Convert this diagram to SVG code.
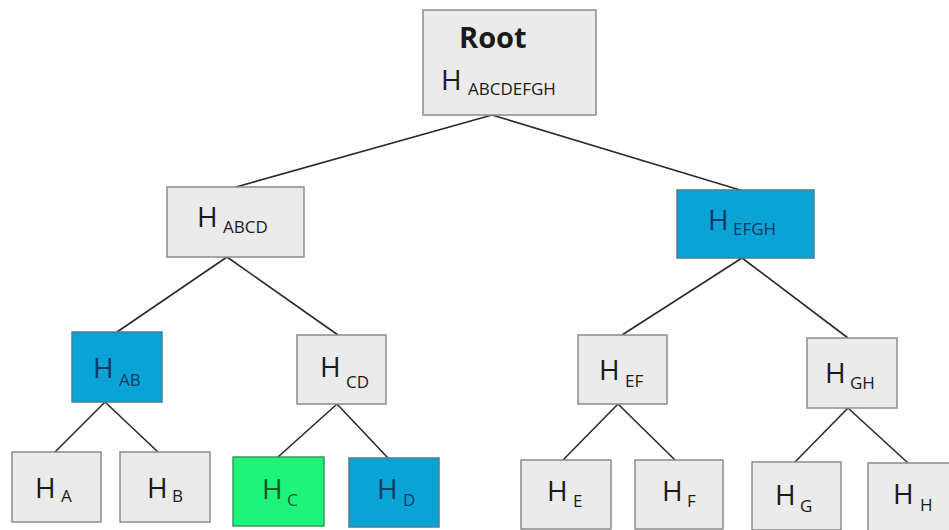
<svg xmlns="http://www.w3.org/2000/svg" width="949" height="530" viewBox="0 0 949 530">
<style>
.g{fill:#ebebeb;stroke:#8c8c8c;stroke-width:1.5}
.b{fill:#0aa3d5;stroke:#4a7f93;stroke-width:1.5}
.gr{fill:#1ff47a;stroke:#3a9a5a;stroke-width:1.5}
text{font-family:"Open Sans","Liberation Sans",sans-serif;font-size:28px;fill:#1a1a1a}
.s{font-size:17px}
.tb{fill:#0c3966}
.tg{fill:#0b5a2c}
.c line{stroke:#2a2a2a;stroke-width:1.6}
</style>
<rect width="949" height="530" fill="#ffffff"/>
<g class="c" id="connectors">
<line x1="492" y1="115" x2="236" y2="187"/>
<line x1="492" y1="115" x2="740" y2="190"/>
<line x1="227" y1="257" x2="117" y2="332"/>
<line x1="227" y1="257" x2="338" y2="335"/>
<line x1="742" y1="258" x2="622" y2="335"/>
<line x1="742" y1="258" x2="848" y2="338"/>
<line x1="105" y1="402" x2="55" y2="452"/>
<line x1="105" y1="402" x2="158" y2="452"/>
<line x1="337" y1="404" x2="278" y2="457"/>
<line x1="337" y1="404" x2="388" y2="458"/>
<line x1="618" y1="404" x2="563" y2="460"/>
<line x1="618" y1="404" x2="675" y2="460"/>
<line x1="848" y1="408" x2="795" y2="462"/>
<line x1="848" y1="408" x2="908" y2="463"/>
</g>
<g id="root">
<rect class="g" x="423" y="10" width="173" height="105"/>
<text x="459" y="48" style="font-weight:700;font-size:29px">Root</text>
<text x="441" y="90">H</text><text class="s" x="468" y="95">ABCDEFGH</text>
</g>
<g id="h-abcd">
<rect class="g" x="167" y="187" width="137" height="70"/>
<text x="197" y="227">H</text><text class="s" x="223" y="233">ABCD</text>
</g>
<g id="h-efgh">
<rect class="b" x="677" y="190" width="137" height="68"/>
<text class="tb" x="708" y="230">H</text><text class="s tb" x="733" y="235">EFGH</text>
</g>
<g id="h-ab">
<rect class="b" x="72" y="332" width="90" height="70"/>
<text class="tb" x="93" y="378">H</text><text class="s tb" x="119" y="386">AB</text>
</g>
<g id="h-cd">
<rect class="g" x="297" y="335" width="89" height="69"/>
<text x="320" y="377">H</text><text class="s" x="346" y="388">CD</text>
</g>
<g id="h-ef">
<rect class="g" x="578" y="335" width="89" height="69"/>
<text x="599" y="380">H</text><text class="s" x="625" y="387">EF</text>
</g>
<g id="h-gh">
<rect class="g" x="807" y="338" width="90" height="70"/>
<text x="825" y="383">H</text><text class="s" x="850" y="389">GH</text>
</g>
<g id="h-a">
<rect class="g" x="12" y="452" width="89" height="70"/>
<text x="35" y="498">H</text><text class="s" x="61" y="502">A</text>
</g>
<g id="h-b">
<rect class="g" x="120" y="452" width="90" height="70"/>
<text x="147" y="498">H</text><text class="s" x="172" y="502">B</text>
</g>
<g id="h-c">
<rect class="gr" x="233" y="457" width="91" height="69"/>
<text class="tg" x="262" y="499">H</text><text class="s tg" x="287" y="506">C</text>
</g>
<g id="h-d">
<rect class="b" x="349" y="458" width="90" height="69"/>
<text class="tb" x="377" y="499">H</text><text class="s tb" x="403" y="506">D</text>
</g>
<g id="h-e">
<rect class="g" x="521" y="460" width="90" height="69"/>
<text x="547" y="501">H</text><text class="s" x="573" y="507">E</text>
</g>
<g id="h-f">
<rect class="g" x="635" y="460" width="88" height="69"/>
<text x="662" y="501">H</text><text class="s" x="687" y="507">F</text>
</g>
<g id="h-g">
<rect class="g" x="752" y="462" width="89" height="68"/>
<text x="775" y="505">H</text><text class="s" x="800" y="512">G</text>
</g>
<g id="h-h">
<rect class="g" x="868" y="463" width="82" height="68"/>
<text x="893" y="504">H</text><text class="s" x="920" y="511">H</text>
</g>
</svg>
